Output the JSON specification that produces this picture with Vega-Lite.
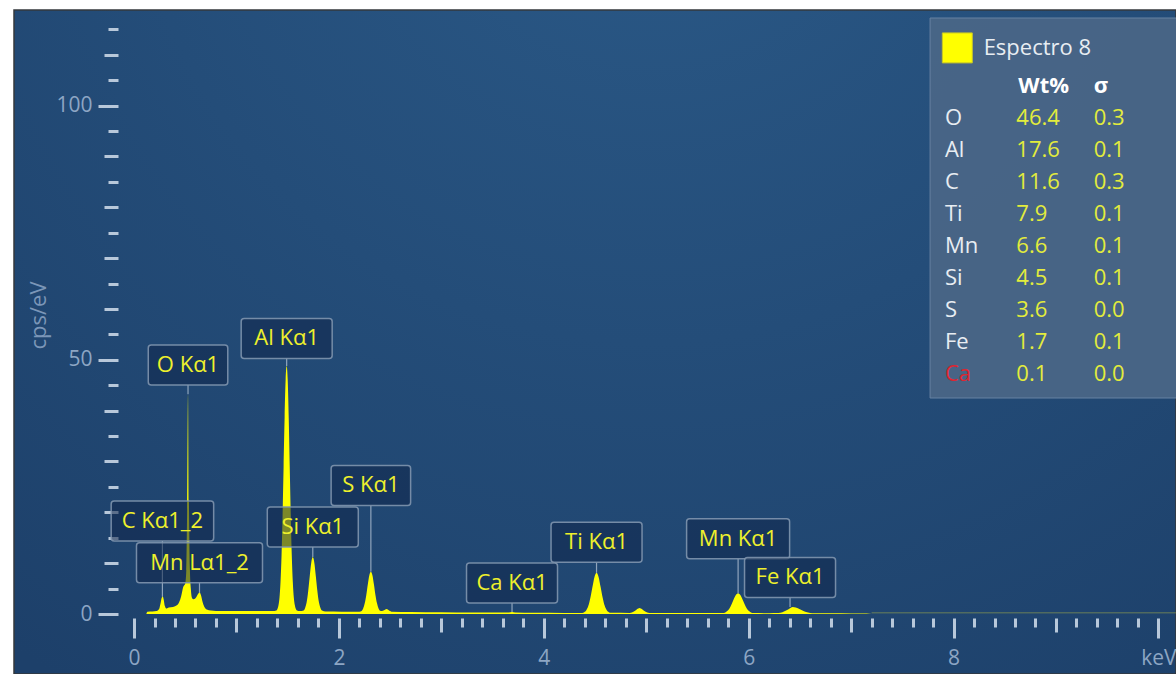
{
  "$schema": "https://vega.github.io/schema/vega-lite/v6.json",
  "width": 1162,
  "height": 664,
  "autosize": "none",
  "padding": {"left": 14, "top": 10, "right": 0, "bottom": 0},
  "background": "#ffffff",
  "view": {
    "fill": {"gradient": "radial", "x1": 0.55, "y1": 0.05, "x2": 0.55, "y2": 0.05, "r1": 0, "r2": 0.9,
      "stops": [{"offset": 0, "color": "#2b5a88"}, {"offset": 1, "color": "#1d406a"}]},
    "stroke": "#34383d",
    "strokeWidth": 1.5
  },
  "config": {"font": "Open Sans"},
  "datasets": {
    "spectrum": [
      {"keV": 0.12, "cps": 0}, {"keV": 0.13, "cps": 0.45}, {"keV": 0.18, "cps": 0.5}, {"keV": 0.22, "cps": 0.6},
      {"keV": 0.245, "cps": 1.0}, {"keV": 0.26, "cps": 2.2}, {"keV": 0.27, "cps": 3.2}, {"keV": 0.28, "cps": 3.5},
      {"keV": 0.29, "cps": 2.8}, {"keV": 0.30, "cps": 1.6}, {"keV": 0.315, "cps": 1.1}, {"keV": 0.34, "cps": 1.3},
      {"keV": 0.38, "cps": 1.4}, {"keV": 0.41, "cps": 1.6}, {"keV": 0.44, "cps": 2.3}, {"keV": 0.46, "cps": 3.5},
      {"keV": 0.48, "cps": 5.3}, {"keV": 0.50, "cps": 6.0}, {"keV": 0.51, "cps": 8.5}, {"keV": 0.518, "cps": 20},
      {"keV": 0.527, "cps": 43.2}, {"keV": 0.536, "cps": 22}, {"keV": 0.545, "cps": 9}, {"keV": 0.555, "cps": 4.8},
      {"keV": 0.565, "cps": 3.2}, {"keV": 0.58, "cps": 2.9}, {"keV": 0.60, "cps": 3.1}, {"keV": 0.62, "cps": 3.8},
      {"keV": 0.64, "cps": 4.3}, {"keV": 0.655, "cps": 3.6}, {"keV": 0.67, "cps": 2.3}, {"keV": 0.69, "cps": 1.3},
      {"keV": 0.71, "cps": 0.9}, {"keV": 0.75, "cps": 0.7}, {"keV": 0.85, "cps": 0.6}, {"keV": 1.0, "cps": 0.6},
      {"keV": 1.2, "cps": 0.6}, {"keV": 1.35, "cps": 0.6},
      {"keV": 1.39, "cps": 0.7}, {"keV": 1.40, "cps": 1.0}, {"keV": 1.41, "cps": 1.7}, {"keV": 1.42, "cps": 3.2},
      {"keV": 1.43, "cps": 6.3}, {"keV": 1.44, "cps": 11.5}, {"keV": 1.45, "cps": 19.3}, {"keV": 1.46, "cps": 28.9},
      {"keV": 1.47, "cps": 38.7}, {"keV": 1.48, "cps": 46.1}, {"keV": 1.49, "cps": 48.8}, {"keV": 1.50, "cps": 46.1},
      {"keV": 1.51, "cps": 38.7}, {"keV": 1.52, "cps": 28.9}, {"keV": 1.53, "cps": 19.3}, {"keV": 1.54, "cps": 11.5},
      {"keV": 1.55, "cps": 6.3}, {"keV": 1.56, "cps": 3.2}, {"keV": 1.57, "cps": 1.7}, {"keV": 1.58, "cps": 1.0},
      {"keV": 1.59, "cps": 0.7}, {"keV": 1.62, "cps": 0.6},
      {"keV": 1.655, "cps": 0.7}, {"keV": 1.67, "cps": 1.2}, {"keV": 1.685, "cps": 2.3}, {"keV": 1.70, "cps": 4.5},
      {"keV": 1.715, "cps": 7.4}, {"keV": 1.73, "cps": 10.1}, {"keV": 1.745, "cps": 11.2}, {"keV": 1.76, "cps": 10.1},
      {"keV": 1.775, "cps": 7.4}, {"keV": 1.79, "cps": 4.5}, {"keV": 1.805, "cps": 2.3}, {"keV": 1.82, "cps": 1.2},
      {"keV": 1.835, "cps": 0.7}, {"keV": 1.87, "cps": 0.5}, {"keV": 1.95, "cps": 0.5}, {"keV": 2.10, "cps": 0.45},
      {"keV": 2.20, "cps": 0.45},
      {"keV": 2.222, "cps": 0.6}, {"keV": 2.237, "cps": 1.1}, {"keV": 2.252, "cps": 2.1}, {"keV": 2.267, "cps": 3.7},
      {"keV": 2.282, "cps": 5.8}, {"keV": 2.297, "cps": 7.6}, {"keV": 2.312, "cps": 8.3}, {"keV": 2.327, "cps": 7.6},
      {"keV": 2.342, "cps": 5.8}, {"keV": 2.357, "cps": 3.7}, {"keV": 2.372, "cps": 2.1}, {"keV": 2.387, "cps": 1.1},
      {"keV": 2.402, "cps": 0.64}, {"keV": 2.42, "cps": 0.6}, {"keV": 2.44, "cps": 0.75}, {"keV": 2.465, "cps": 1.0},
      {"keV": 2.49, "cps": 0.7}, {"keV": 2.52, "cps": 0.45}, {"keV": 2.7, "cps": 0.4}, {"keV": 3.0, "cps": 0.35},
      {"keV": 3.3, "cps": 0.3}, {"keV": 3.6, "cps": 0.28}, {"keV": 3.66, "cps": 0.3}, {"keV": 3.69, "cps": 0.4},
      {"keV": 3.72, "cps": 0.3}, {"keV": 3.9, "cps": 0.25}, {"keV": 4.2, "cps": 0.22}, {"keV": 4.375, "cps": 0.22},
      {"keV": 4.395, "cps": 0.37}, {"keV": 4.415, "cps": 0.73}, {"keV": 4.435, "cps": 1.6}, {"keV": 4.455, "cps": 3.2},
      {"keV": 4.475, "cps": 5.3}, {"keV": 4.495, "cps": 7.3}, {"keV": 4.515, "cps": 8.1}, {"keV": 4.535, "cps": 7.3},
      {"keV": 4.555, "cps": 5.3}, {"keV": 4.575, "cps": 3.2}, {"keV": 4.595, "cps": 1.6}, {"keV": 4.615, "cps": 0.73},
      {"keV": 4.635, "cps": 0.37}, {"keV": 4.655, "cps": 0.25},
      {"keV": 4.84, "cps": 0.22}, {"keV": 4.88, "cps": 0.5}, {"keV": 4.91, "cps": 0.95}, {"keV": 4.935, "cps": 1.2},
      {"keV": 4.96, "cps": 0.95}, {"keV": 4.99, "cps": 0.5}, {"keV": 5.03, "cps": 0.22}, {"keV": 5.3, "cps": 0.2},
      {"keV": 5.6, "cps": 0.18}, {"keV": 5.747, "cps": 0.18},
      {"keV": 5.772, "cps": 0.32}, {"keV": 5.797, "cps": 0.68}, {"keV": 5.822, "cps": 1.43}, {"keV": 5.847, "cps": 2.55},
      {"keV": 5.872, "cps": 3.65}, {"keV": 5.897, "cps": 4.1}, {"keV": 5.922, "cps": 3.65}, {"keV": 5.947, "cps": 2.55},
      {"keV": 5.972, "cps": 1.43}, {"keV": 5.997, "cps": 0.68}, {"keV": 6.022, "cps": 0.32}, {"keV": 6.047, "cps": 0.18},
      {"keV": 6.2, "cps": 0.16},
      {"keV": 6.29, "cps": 0.18}, {"keV": 6.33, "cps": 0.35}, {"keV": 6.37, "cps": 0.75}, {"keV": 6.40, "cps": 1.1},
      {"keV": 6.43, "cps": 1.4}, {"keV": 6.46, "cps": 1.3}, {"keV": 6.50, "cps": 0.95}, {"keV": 6.54, "cps": 0.55},
      {"keV": 6.58, "cps": 0.3}, {"keV": 6.62, "cps": 0.16}, {"keV": 6.8, "cps": 0.14}, {"keV": 7.0, "cps": 0.12},
      {"keV": 7.15, "cps": 0.1}, {"keV": 7.2, "cps": 0}
    ],
    "peaks": [
      {"label": "C Kα1_2", "energy": 0.277, "labelY": 18.3, "tipY": 3.4},
      {"label": "Mn Lα1_2", "energy": 0.639, "labelY": 10.1, "tipY": 4.2},
      {"label": "O Kα1", "energy": 0.527, "labelY": 49.0, "tipY": 43.2},
      {"label": "Al Kα1", "energy": 1.49, "labelY": 54.2, "tipY": 48.8},
      {"label": "Si Kα1", "energy": 1.745, "labelY": 17.1, "tipY": 11.2},
      {"label": "S Kα1", "energy": 2.312, "labelY": 25.3, "tipY": 8.3},
      {"label": "Ca Kα1", "energy": 3.69, "labelY": 6.1, "tipY": 0.4},
      {"label": "Ti Kα1", "energy": 4.515, "labelY": 14.1, "tipY": 8.1},
      {"label": "Mn Kα1", "energy": 5.897, "labelY": 14.8, "tipY": 4.1},
      {"label": "Fe Kα1", "energy": 6.404, "labelY": 7.2, "tipY": 1.4}
    ],
    "composition": [
      {"element": "O", "wt": 46.4, "sigma": 0.3, "rank": 1},
      {"element": "Al", "wt": 17.6, "sigma": 0.1, "rank": 2},
      {"element": "C", "wt": 11.6, "sigma": 0.3, "rank": 3},
      {"element": "Ti", "wt": 7.9, "sigma": 0.1, "rank": 4},
      {"element": "Mn", "wt": 6.6, "sigma": 0.1, "rank": 5},
      {"element": "Si", "wt": 4.5, "sigma": 0.1, "rank": 6},
      {"element": "S", "wt": 3.6, "sigma": 0.0, "rank": 7},
      {"element": "Fe", "wt": 1.7, "sigma": 0.1, "rank": 8},
      {"element": "Ca", "wt": 0.1, "sigma": 0.0, "rank": 9}
    ]
  },
  "layer": [
    {
      "layer": [
        {
          "data": {"name": "spectrum"},
          "mark": {"type": "area", "color": "#ffff00", "interpolate": "monotone", "opacity": 1},
          "encoding": {
            "x": {
              "field": "keV", "type": "quantitative",
              "scale": {"domain": [-1.123, 10.123], "nice": false, "zero": false},
              "axis": {
                "title": null, "orient": "bottom", "offset": -56, "domain": false, "grid": false,
                "values": [0,0.2,0.4,0.6,0.8,1,1.2,1.4,1.6,1.8,2,2.2,2.4,2.6,2.8,3,3.2,3.4,3.6,3.8,4,4.2,4.4,4.6,4.8,5,5.2,5.4,5.6,5.8,6,6.2,6.4,6.6,6.8,7,7.2,7.4,7.6,7.8,8,8.2,8.4,8.6,8.8,9,9.2,9.4,9.6,9.8,10],
                "tickCount": 1000,
                "tickSize": {"condition": [{"test": "datum.value % 2 === 0", "value": 20}, {"test": "datum.value % 1 === 0", "value": 14}], "value": 9},
                "tickWidth": 3, "tickColor": "#b8c8da",
                "labelExpr": "datum.value % 2 === 0 ? (datum.value === 10 ? 'keV' : format(datum.value, 'd')) : ''",
                "labelFont": "Open Sans", "labelFontSize": 21, "labelColor": "#8da6c4",
                "labelPadding": 9, "labelOverlap": false, "labelFlush": false
              }
            },
            "y": {
              "field": "cps", "type": "quantitative",
              "scale": {"domain": [-11.8, 118.8], "nice": false, "zero": false},
              "axis": {
                "title": "cps/eV", "orient": "left", "offset": -104, "domain": false, "grid": false,
                "values": [0,5,10,15,20,25,30,35,40,45,50,55,60,65,70,75,80,85,90,95,100,105,110,115],
                "tickCount": 1000,
                "tickSize": {"condition": [{"test": "datum.value % 50 === 0", "value": 20}, {"test": "datum.value % 10 === 0", "value": 14}], "value": 10},
                "tickWidth": 3, "tickColor": "#b8c8da",
                "labelExpr": "datum.value % 50 === 0 ? format(datum.value, 'd') : ''",
                "labelFont": "Open Sans", "labelFontSize": 21, "labelColor": "#8da6c4",
                "labelPadding": 6, "labelOverlap": false, "labelFlush": false,
                "titleFont": "Open Sans", "titleFontSize": 22, "titleFontWeight": "normal", "titleColor": "#7b96b8",
                "titleX": -80, "titleY": 305, "titleAngle": -90, "titleAlign": "center", "titleBaseline": "middle"
              }
            }
          }
        },
        {
          "data": {"values": [{}]},
          "mark": {"type": "rule", "color": "#9aa84a", "opacity": 0.4, "strokeWidth": 1.5},
          "encoding": {"x": {"datum": 7.2}, "x2": {"datum": 10.2}, "y": {"datum": 0.25}}
        },
        {
          "data": {"name": "peaks"},
          "mark": {"type": "rule", "color": "#a3b5c9", "strokeWidth": 1.2, "opacity": 0.85, "yOffset": 20},
          "encoding": {
            "x": {"field": "energy", "type": "quantitative"},
            "y": {"field": "labelY", "type": "quantitative"},
            "y2": {"field": "tipY"}
          }
        },
        {
          "data": {"name": "peaks"},
          "mark": {"type": "bar", "fill": "#10264a", "fillOpacity": 0.55, "stroke": "#8095ae", "strokeWidth": 1.5, "strokeOpacity": 0.9, "cornerRadius": 3, "yOffset": -20, "y2Offset": 20},
          "encoding": {
            "x": {"field": "energy", "type": "quantitative"},
            "y": {"field": "labelY", "type": "quantitative"},
            "y2": {"field": "labelY"},
            "size": {"value": {"expr": "length(datum.label) * 11.5 + (test(/M/, datum.label) ? 12 : 0) + 22"}}
          }
        },
        {
          "data": {"name": "peaks"},
          "mark": {"type": "text", "color": "#eef02c", "fontSize": 22, "align": "center", "baseline": "middle", "font": "Open Sans"},
          "encoding": {
            "x": {"field": "energy", "type": "quantitative"},
            "y": {"field": "labelY", "type": "quantitative"},
            "text": {"field": "label"}
          }
        }
      ]
    },
    {
      "layer": [
        {
          "data": {"values": [{}]},
          "mark": {"type": "rect", "fill": "#4a6687", "fillOpacity": 0.93, "stroke": "#6782a2", "strokeWidth": 1},
          "encoding": {
            "x": {"datum": 7.771, "scale": {"domain": [-1.123, 10.123], "nice": false, "zero": false}},
            "x2": {"datum": 10.4},
            "y": {"datum": -2.125, "scale": {"domain": [-2.375, 18.375], "reverse": true, "nice": false, "zero": false}, "axis": null},
            "y2": {"datum": 9.75}
          }
        },
        {
          "data": {"values": [{}]},
          "mark": {"type": "point", "shape": "square", "filled": true, "fill": "#ffff00", "stroke": "#c4c42a", "strokeWidth": 1, "size": 900, "opacity": 1},
          "encoding": {"x": {"datum": 8.037}, "y": {"datum": -1.19}}
        },
        {
          "data": {"values": [{}]},
          "mark": {"type": "text", "text": "Espectro 8", "align": "left", "baseline": "middle", "fontSize": 22, "color": "#e8edf2", "font": "Open Sans"},
          "encoding": {"x": {"datum": 8.294}, "y": {"datum": -1.19}}
        },
        {
          "data": {"values": [{}]},
          "mark": {"type": "text", "text": "Wt%", "align": "left", "baseline": "middle", "fontSize": 22, "fontWeight": "bold", "color": "#ffffff", "font": "Open Sans"},
          "encoding": {"x": {"datum": 8.633}, "y": {"datum": 0}}
        },
        {
          "data": {"values": [{}]},
          "mark": {"type": "text", "text": "σ", "align": "left", "baseline": "middle", "fontSize": 22, "fontWeight": "bold", "color": "#ffffff", "font": "Open Sans"},
          "encoding": {"x": {"datum": 9.368}, "y": {"datum": 0}}
        },
        {
          "data": {"name": "composition"},
          "mark": {"type": "text", "align": "left", "baseline": "middle", "fontSize": 22, "font": "Open Sans"},
          "encoding": {
            "x": {"datum": 7.916},
            "y": {"field": "rank", "type": "quantitative"},
            "text": {"field": "element"},
            "color": {"condition": {"test": "datum.element === 'Ca'", "value": "#df2530"}, "value": "#e8edf2"}
          }
        },
        {
          "data": {"name": "composition"},
          "mark": {"type": "text", "align": "left", "baseline": "middle", "fontSize": 22, "color": "#e3ec3c", "font": "Open Sans"},
          "encoding": {
            "x": {"datum": 8.613},
            "y": {"field": "rank", "type": "quantitative"},
            "text": {"field": "wt", "type": "quantitative", "format": ".1f"}
          }
        },
        {
          "data": {"name": "composition"},
          "mark": {"type": "text", "align": "left", "baseline": "middle", "fontSize": 22, "color": "#e3ec3c", "font": "Open Sans"},
          "encoding": {
            "x": {"datum": 9.368},
            "y": {"field": "rank", "type": "quantitative"},
            "text": {"field": "sigma", "type": "quantitative", "format": ".1f"}
          }
        }
      ]
    }
  ],
  "resolve": {"scale": {"y": "independent"}}
}
